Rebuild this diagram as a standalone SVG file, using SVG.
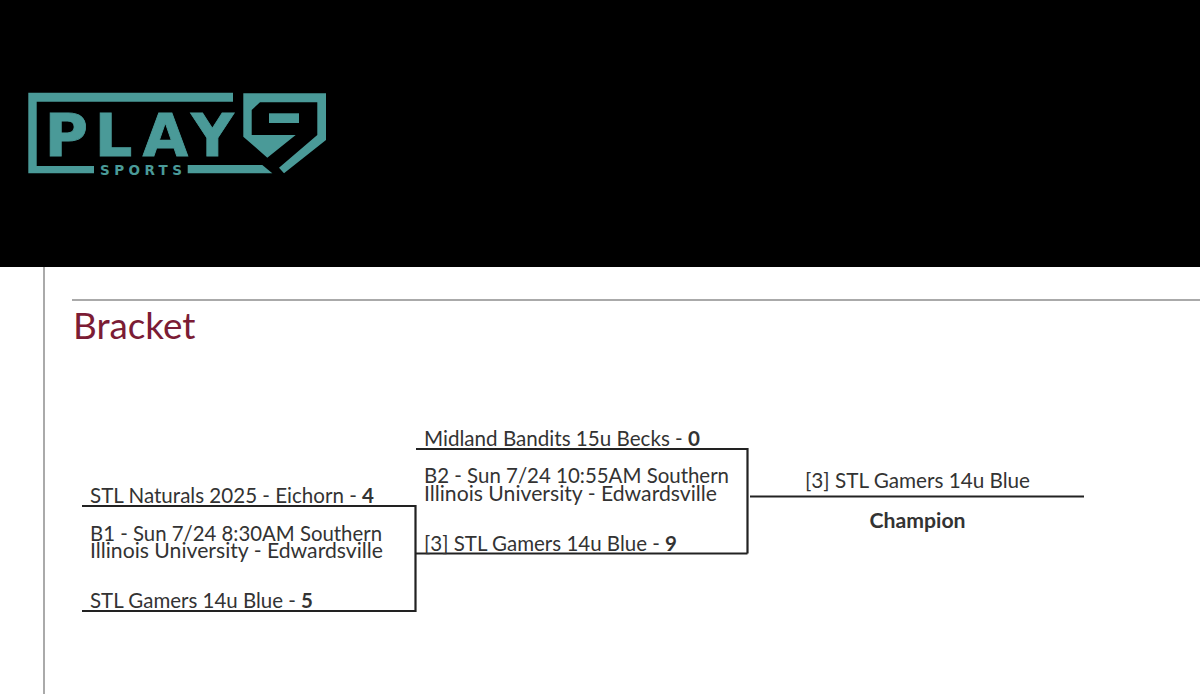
<svg xmlns="http://www.w3.org/2000/svg" width="1200" height="694" viewBox="0 0 1200 694">
<style>
.t{font-family:Lato,"Open Sans",sans-serif;font-size:20.6px;fill:#333}
.b{font-weight:700}
.c{fill:none;stroke:#222;stroke-width:2.2}
.l{fill:#4a9a98}
</style>
<rect width="1200" height="694" fill="#fff"/>
<g id="header">
<rect width="1200" height="267" fill="#000"/>
<g id="logo">
<path class="l" d="M28.3 92.7H233V101.7H36.7V166H94V173.3H28.3Z"/>
<path class="l" d="M187.7 165H262.3L272.3 173.3H187.700Z"/>
<path class="l" d="M243.3 93.3H326V140L284 173.3L279 167.7L317.3 135V102.3H260L251.7 110V135H295.7L267.3 157.7L243.3 136.7Z"/>
<rect class="l" x="269" y="113.3" width="30" height="9.7"/>
<text class="l" x="44.7 94.7 142.500 191" y="156" font-family="'DejaVu Sans',sans-serif" font-weight="700" font-size="59" stroke="#4a9a98" stroke-width="0.8">PLAY</text>
<text class="l" x="100" y="175" font-family="'DejaVu Sans',sans-serif" font-weight="700" font-size="13.500" textLength="82">SPORTS</text>
</g>
</g>
<g id="frame" fill="#aaa">
<rect x="43" y="267" width="2" height="427"/>
<rect x="72" y="299" width="1128" height="2"/>
</g>
<text x="73" y="339" font-family="Lato,sans-serif" font-size="36.800" fill="#7b1c35">Bracket</text>
<g id="connectors">
<path class="c" d="M82 506H415.500V611H82"/>
<path class="c" d="M415.500 553.500H747.500"/>
<path class="c" d="M416 449H747.500V553.500"/>
<path class="c" d="M750 496.500H1084"/>
</g>
<g id="game-b1">
<text class="t" x="90" y="503" textLength="284" lengthAdjust="spacingAndGlyphs">STL Naturals 2025 - Eichorn - <tspan class="b">4</tspan></text>
<text class="t" x="90" y="541" textLength="292" lengthAdjust="spacingAndGlyphs">B1 - Sun 7/24 8:30AM Southern</text>
<text class="t" x="90" y="558" textLength="293" lengthAdjust="spacingAndGlyphs">Illinois University - Edwardsville</text>
<text class="t" x="90" y="607.500" textLength="223" lengthAdjust="spacingAndGlyphs">STL Gamers 14u Blue - <tspan class="b">5</tspan></text>
</g>
<g id="game-b2">
<text class="t" x="424" y="445.500" textLength="276" lengthAdjust="spacingAndGlyphs">Midland Bandits 15u Becks - <tspan class="b">0</tspan></text>
<text class="t" x="424" y="483" textLength="305" lengthAdjust="spacingAndGlyphs">B2 - Sun 7/24 10:55AM Southern</text>
<text class="t" x="424" y="500.500" textLength="293" lengthAdjust="spacingAndGlyphs">Illinois University - Edwardsville</text>
<text class="t" x="424" y="550.500" textLength="253" lengthAdjust="spacingAndGlyphs">[3] STL Gamers 14u Blue - <tspan class="b">9</tspan></text>
</g>
<g id="champion">
<text class="t" x="805" y="487.500" textLength="225" lengthAdjust="spacingAndGlyphs">[3] STL Gamers 14u Blue</text>
<text class="t b" x="917.500" y="527.500" text-anchor="middle" style="font-size:21.200px">Champion</text>
</g>
</svg>
